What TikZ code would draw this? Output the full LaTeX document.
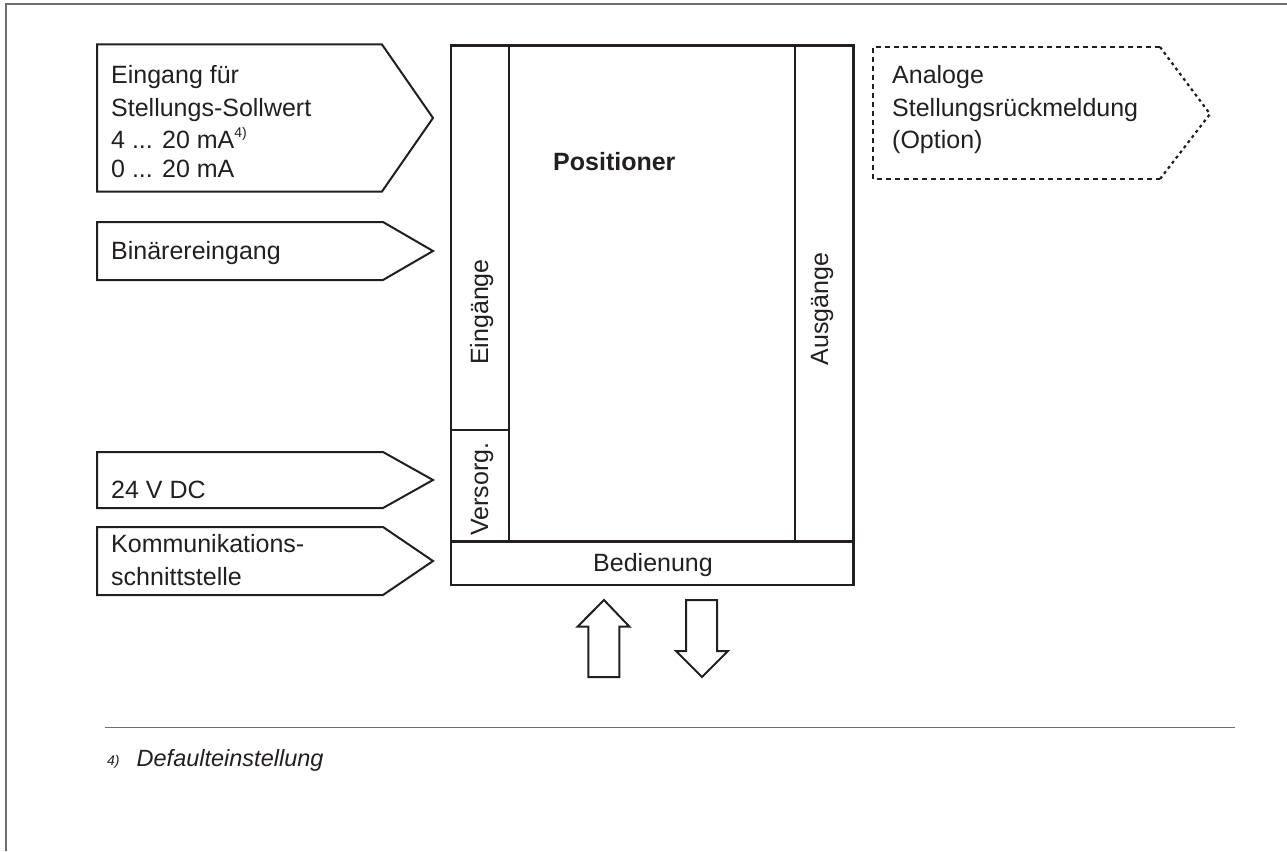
\documentclass[tikz,border=0pt]{standalone}
\usepackage{fontspec}
\setmainfont{Liberation Sans}
\definecolor{ink}{HTML}{231F20}
\definecolor{framegrey}{HTML}{6E6E6E}
\newcommand\txtsize{\fontsize{25}{32.5}\selectfont}
\newcommand\notesize{\fontsize{23.5}{28}\selectfont}
% stacked lines, the node's base anchor sits on the first baseline
\newcommand\linestack[2]{\vtop{\baselineskip=#1\lineskiplimit=-50pt\lineskip=0pt #2}}
\newcommand\fnmark[1]{\raisebox{12pt}{\fontsize{14}{14}\selectfont #1}}

\begin{document}
\begin{tikzpicture}[x=1pt,y=-1pt,
  shapeline/.style={draw=ink, line width=2pt, line join=miter},
  boxline/.style={draw=ink, line width=2.6pt},
  optline/.style={draw=ink, line width=2.2pt, dash pattern=on 5pt off 4pt},
  optdiag/.style={draw=ink, line width=2.2pt, dash pattern=on 3pt off 3.5pt},
  lbl/.style={inner sep=0pt, anchor=base west, text=ink, font=\txtsize},
  vlbl/.style={inner sep=0pt, anchor=base, text=ink, font=\txtsize, rotate=90},
  rulegrey/.style={draw=framegrey, line width=2pt},
]
\useasboundingbox (0,0) rectangle (1287,851);

% page frame and footnote rule
\draw[rulegrey] (1287,4) -- (6,4) -- (6,851);
\draw[framegrey, line width=1.8pt] (105,727.5) -- (1235,727.5);

% input tags on the left
\draw[shapeline] (97,44.5) -- (382,44.5) -- (433,118) -- (382,191.5) -- (97,191.5) -- cycle;
\draw[shapeline] (97,222) -- (383,222) -- (433,251) -- (383,280) -- (97,280) -- cycle;
\draw[shapeline] (97,452) -- (383,452) -- (433,480) -- (383,508) -- (97,508) -- cycle;
\draw[shapeline] (97,527) -- (383,527) -- (433,561) -- (383,595) -- (97,595) -- cycle;

\node[lbl] (sollwert) at (111,84) {\linestack{32.5pt}{%
  \hbox{Eingang für}\hbox{Stellungs-Sollwert}\hbox{4 ... 20 mA\fnmark{4)}}%
  \vskip-4pt\hbox{0 ... 20 mA}}};
\node[lbl] (binaer) at (111,259) {Binärereingang};
\node[lbl] (versorgung) at (111,498) {24 V DC};
\node[lbl] (komm) at (111,552) {\linestack{33.5pt}{%
  \hbox{Kommunikations-}\hbox{schnittstelle}}};

% positioner block
\draw[boxline] (451,45.5) rectangle (853.5,585);
\draw[boxline] (451,541.7) -- (853.5,541.7);
\draw[boxline] (509,45.5) -- (509,541.7);
\draw[boxline] (795,45.5) -- (795,541.7);
\draw[boxline] (451,430) -- (509,430);

\node[lbl, font=\txtsize\bfseries] (positioner) at (553,170) {Positioner};
\node[vlbl] (eingaenge) at (488,312) {Eingänge};
\node[vlbl] (versorg) at (488,489) {Versorg.};
\node[vlbl] (ausgaenge) at (828,309) {Ausgänge};
\node[lbl, anchor=base] (bedienung) at (653,571) {Bedienung};

% optional output tag
\draw[optline] (1160,47) -- (873,47) -- (873,179) -- (1160,179);
\draw[optdiag] (1160,47) -- (1210,114) -- (1160,179);
\node[lbl] (rueckmeldung) at (892,84) {\linestack{32.5pt}{%
  \hbox{Analoge}\hbox{Stellungsrückmeldung}\hbox{(Option)}}};

% operating arrows
\draw[shapeline] (588.3,677) -- (588.3,626.7) -- (577.5,626.7) -- (604,600)
  -- (629.5,626.7) -- (619.3,626.7) -- (619.3,677) -- cycle;
\draw[shapeline] (686,600) -- (717,600) -- (717,651) -- (728,651) -- (702,677)
  -- (676,651) -- (686,651) -- cycle;

% footnote
\node[inner sep=0pt, anchor=base west, text=ink, font=\fontsize{14}{14}\selectfont\itshape] (fnnum) at (107,765) {4)};
\node[inner sep=0pt, anchor=base west, text=ink, font=\notesize\itshape] (fntext) at (136.5,766) {Defaulteinstellung};
\end{tikzpicture}
\end{document}
